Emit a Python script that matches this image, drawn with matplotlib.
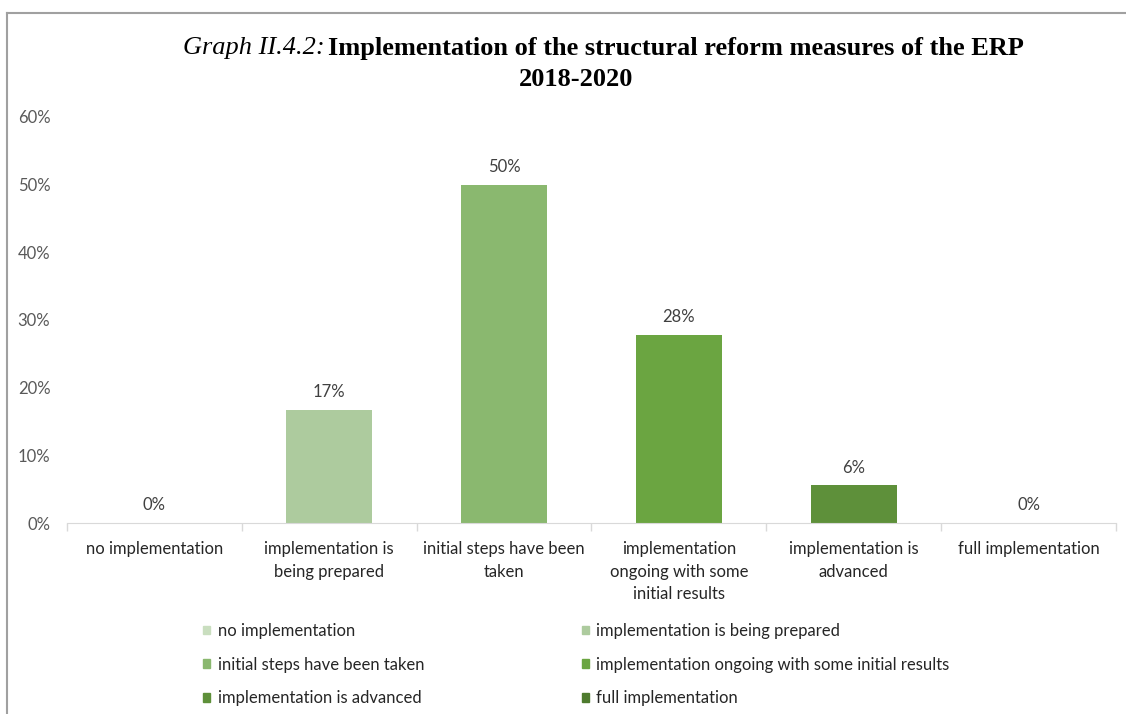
import numpy as np
import matplotlib
matplotlib.use('Agg')
import matplotlib.pyplot as plt
from matplotlib.patches import Patch
from matplotlib.lines import Line2D
from matplotlib.ticker import PercentFormatter

# share of ERP 2018-2020 structural reform measures by implementation stage
categories = ['no implementation', 'implementation is being prepared',
              'initial steps have been taken',
              'implementation ongoing with some initial results',
              'implementation is advanced', 'full implementation']
tick_labels = ['no implementation', 'implementation is\nbeing prepared',
               'initial steps have been\ntaken',
               'implementation\nongoing with some\ninitial results',
               'implementation is\nadvanced', 'full implementation']
shares = [0.0, 3 / 18, 9 / 18, 5 / 18, 1 / 18, 0.0]
colors = ['#C9DEBF', '#ADCB9E', '#8AB86F', '#6BA541', '#5E903A', '#4E7B2E']

plt.rcParams['font.family'] = ['Lato', 'DejaVu Sans']

W, H = 1126, 714
fig = plt.figure(figsize=(W / 100, H / 100), dpi=100)
ax = fig.add_axes([67 / W, 1 - 523 / H, (1116 - 67) / W, (523 - 117) / H])

x = np.arange(len(categories))
bars = ax.bar(x, shares, width=0.49, color=colors)
ax.bar_label(bars, labels=[f'{v:.0%}' for v in shares], padding=7,
             fontsize=12, color='#404040')

ax.set_xlim(-0.5, len(categories) - 0.5)
ax.set_ylim(0, 0.6)
ax.set_yticks(np.arange(0, 0.61, 0.1))
ax.yaxis.set_major_formatter(PercentFormatter(1.0, decimals=0))
ax.tick_params(axis='y', length=0, pad=12, labelsize=12, labelcolor='#595959')

ax.set_xticks(x)
ax.set_xticklabels(tick_labels, linespacing=1.5)
ax.set_xticks(np.arange(-0.5, len(categories), 1), minor=True)
ax.tick_params(axis='x', which='major', length=0, pad=13, labelsize=12,
               labelcolor='#262626')
ax.tick_params(axis='x', which='minor', length=6, color='#D9D9D9', width=1)

for side in ['top', 'right', 'left']:
    ax.spines[side].set_visible(False)
ax.spines['bottom'].set_color('#D9D9D9')

# legend, filled row by row
order = [0, 2, 4, 1, 3, 5]
handles = [Patch(color=colors[i]) for i in order]
labels = [categories[i] for i in order]
fig.legend(handles, labels, ncol=2, loc='upper left',
           bbox_to_anchor=(203 / W, 1 - 623 / H), frameon=False,
           borderpad=0, borderaxespad=0, handlelength=0.42, handleheight=0.42,
           handletextpad=0.45, labelspacing=1.06, columnspacing=9.45,
           fontsize=12, labelcolor='#262626')

# outer frame lines
fig.add_artist(Line2D([7 / W, 1], [1 - 13 / H] * 2, transform=fig.transFigure,
                      color='#A0A0A0', lw=1.5))
fig.add_artist(Line2D([7 / W] * 2, [0, 1 - 13 / H], transform=fig.transFigure,
                      color='#A0A0A0', lw=1.5))

# title: italic prefix followed by bold text
fig.canvas.draw()
renderer = fig.canvas.get_renderer()
t1 = fig.text(183 / W, 1 - 48 / H, 'Graph II.4.2: ', family='Liberation Serif',
              style='italic', fontsize=19, ha='left', va='center')
w1 = t1.get_window_extent(renderer).width
fig.text((183 + w1 - 3) / W, 1 - 48 / H,
         'Implementation of the structural reform measures of the ERP',
         family='Liberation Serif', weight='bold', fontsize=19,
         ha='left', va='center')
fig.text(576 / W, 1 - 80 / H, '2018-2020', family='Liberation Serif',
         weight='bold', fontsize=19, ha='center', va='center')

fig.savefig('out.png', dpi=100)
